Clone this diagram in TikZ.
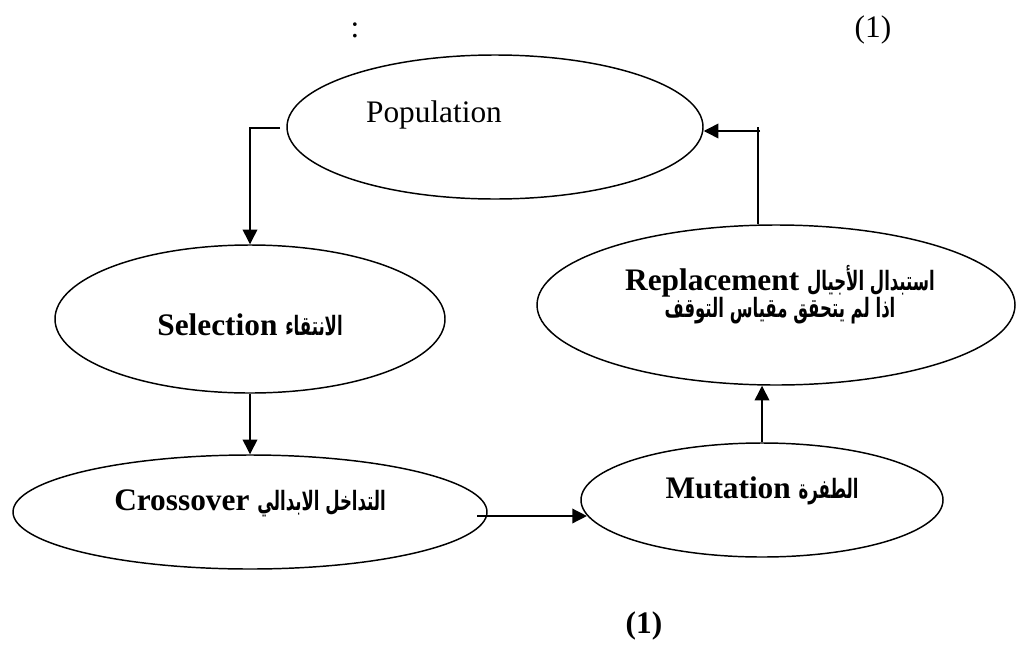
\documentclass[tikz,border=0pt]{standalone}
\usepackage{fontspec}
\setmainfont{Liberation Serif}
\newfontfamily\arabicfont[Script=Arabic,Scale=0.85,FakeStretch=0.62]{DejaVu Sans}
\TeXXeTstate=1
\usetikzlibrary{shapes.geometric,arrows.meta}

\tikzset{
  stage/.style={draw, ellipse, line width=1.1pt, inner sep=0pt},
  lbl/.style={anchor=base, inner sep=0pt, font=\fontsize{23.5}{28}\selectfont\bfseries},
  plainlbl/.style={lbl, font=\fontsize{23.5}{28}\selectfont},
  flow/.style={line width=1.1pt, -{Triangle[length=11pt,width=11pt]}},
}

\begin{document}
\begin{tikzpicture}[x=0.75pt,y=-0.75pt]
    \useasboundingbox (0,0) rectangle (1019,646);

    % Header
    \node[plainlbl] (colon) at (355,37) {:};
    \node[plainlbl] (fignum) at (873,37) {(1)};

    % Stages of the cycle
    \node[stage, minimum width=312pt, minimum height=108pt] (pop) at (495,127) {};
    \node[stage, minimum width=292.5pt, minimum height=111pt] (sel) at (250,319) {};
    \node[stage, minimum width=355.5pt, minimum height=85.5pt] (cross) at (250,512) {};
    \node[stage, minimum width=271.5pt, minimum height=85.5pt] (mut) at (762,500) {};
    \node[stage, minimum width=358.5pt, minimum height=120pt] (rep) at (776,305) {};

    % Labels
    \node[plainlbl] (poptxt) at (434,122) {Population};
    \node[lbl] (seltxt) at (250,335) {Selection \arabicfont\beginR الانتقاء\endR};
    \node[lbl] (crosstxt) at (250,510) {Crossover \arabicfont\beginR التداخل الابدالي\endR};
    \node[lbl] (muttxt) at (762,498) {Mutation \arabicfont\beginR الطفرة\endR};
    \node[lbl] (reptxt) at (780,290) {Replacement \arabicfont\beginR استبدال الأجيال\endR};
    \node[lbl] (stoptxt) at (780,317) {\arabicfont\beginR اذا لم يتحقق مقياس التوقف\endR};

    % Connectors
    \coordinate (popout) at (280,128);
    \draw[flow] (popout) -| (sel.north);
    \draw[flow] (sel.south) -- (cross.north);
    \coordinate (crossout) at (477,516);
    \draw[flow] (crossout) -- ([xshift=5pt]crossout -| mut.west);
    \draw[flow] (mut.north) -- (mut.north |- rep.south);
    \coordinate (reptop) at (758,127);
    \draw[line width=1.1pt] (reptop |- rep.north) -- (reptop);
    \coordinate (repturn) at (760,131);
    \draw[flow] (repturn) -- (repturn -| pop.east);

    % Caption
    \node[lbl] (caption) at (644,633) {(1)};
\end{tikzpicture}
\end{document}
